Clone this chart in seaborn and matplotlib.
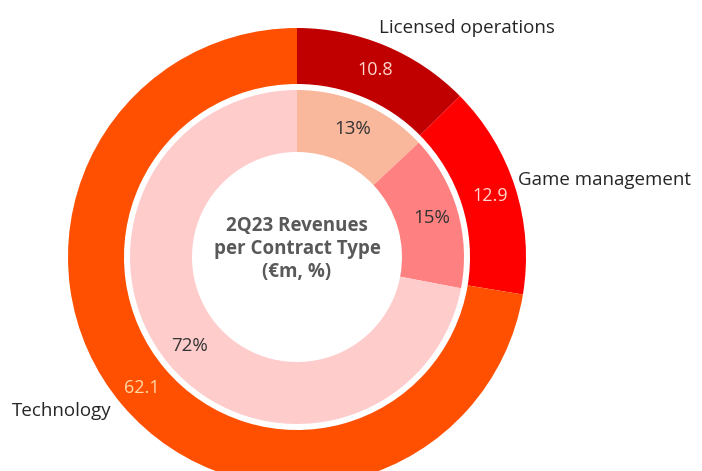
import numpy as np
import matplotlib.pyplot as plt
import seaborn as sns

# data
categories = ["Licensed operations", "Game management", "Technology"]
revenues = [10.8, 12.9, 62.1]
shares = [13, 15, 72]
outer_colors = ["#C00000", "#FF0000", "#FE5000"]
inner_colors = ["#F9B79C", "#FF8080", "#FFCCCC"]
value_colors = ["#FFD9D0", "#FFD6D0", "#FFD9A8"]
title = "2Q23 Revenues\nper Contract Type\n(€m, %)"

sns.set_theme(style="white")
plt.rcParams["font.family"] = ["Open Sans", "DejaVu Sans"]

fig = plt.figure(figsize=(7.02, 4.71), dpi=100)
ax = fig.add_axes([0, 0, 1, 1])

cx, cy = 297, 471 - 257
r_out = 229
r_in = 167

outer, _ = ax.pie(revenues, colors=outer_colors, radius=r_out, center=(cx, cy),
                  startangle=90, counterclock=False,
                  wedgeprops=dict(width=r_out - 173, linewidth=0))
inner, _ = ax.pie(shares, colors=inner_colors, radius=r_in, center=(cx, cy),
                  startangle=90, counterclock=False,
                  wedgeprops=dict(width=r_in - 105, linewidth=0))

ax.set_xlim(0, 702)
ax.set_ylim(0, 471)
ax.set_aspect("equal")
ax.axis("off")


def mid_point(w, r):
    ang = np.deg2rad((w.theta1 + w.theta2) / 2)
    return cx + r * np.cos(ang), cy + r * np.sin(ang)


for w, v, c in zip(outer, revenues, value_colors):
    x, y = mid_point(w, 203)
    ax.text(x, y, f"{v:.1f}", ha="center", va="center", fontsize=13, color=c)

for w, s in zip(inner, shares):
    x, y = mid_point(w, 140)
    ax.text(x, y, f"{s}%", ha="center", va="center", fontsize=13.5, color="#333333")

label_pos = [(467, 471 - 28, "center"), (518, 471 - 180, "left"), (12, 471 - 411, "left")]
for name, (x, y, ha) in zip(categories, label_pos):
    ax.text(x, y, name, ha=ha, va="center", fontsize=13.5, color="#262626")

ax.text(cx, cy + 8, title, ha="center", va="center", fontsize=13.5,
        fontweight="bold", color="#595959", linespacing=1.2)

fig.savefig("out.png", dpi=100)
